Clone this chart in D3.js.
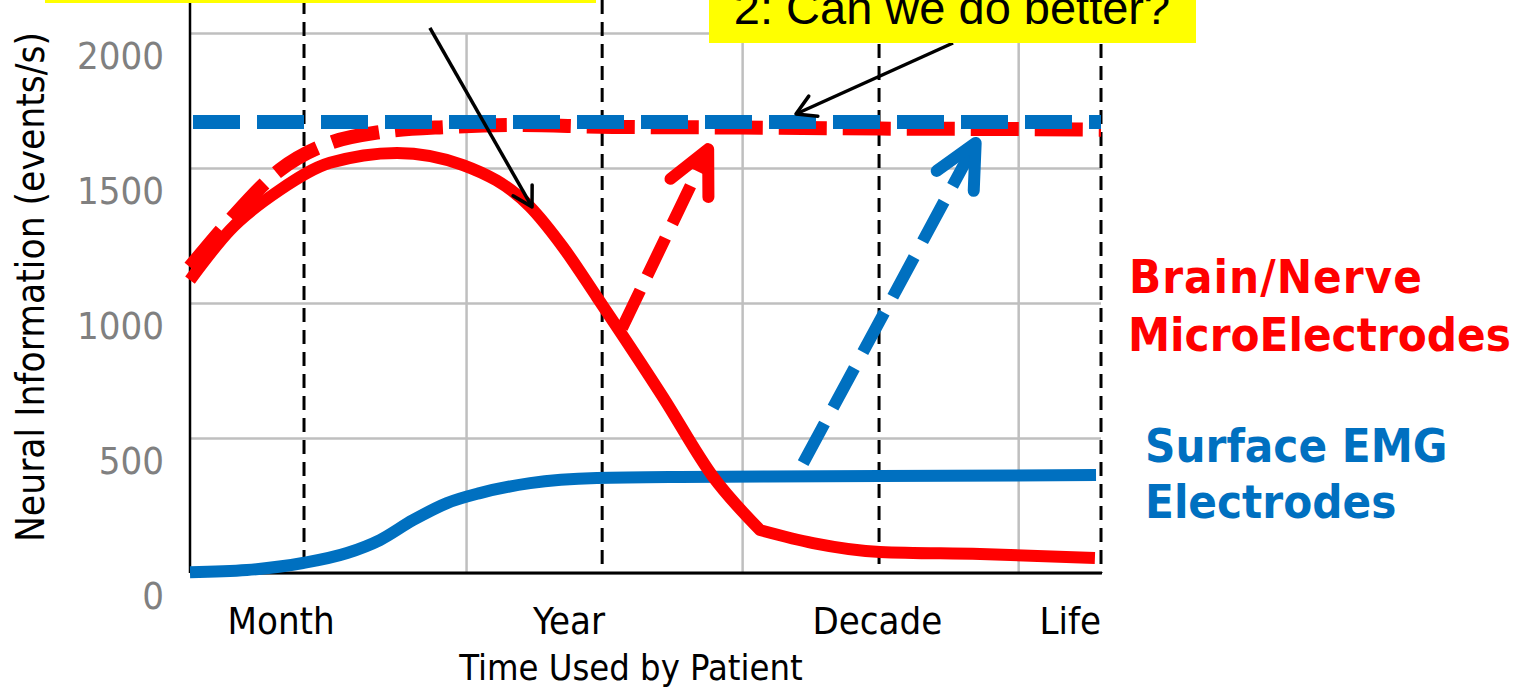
<!DOCTYPE html>
<html>
<head>
<meta charset="utf-8">
<script src="https://cdn.jsdelivr.net/npm/d3@7"></script>
<style>
  body { margin: 0; background: #fff; overflow: hidden; }
  svg { display: block; }
</style>
</head>
<body>
<svg id="chart" width="1515" height="688"></svg>
<script>
// x runs in grid columns (0 .. 3.3), y in events/s
const gridCols = [1, 2, 3];
const yTicks = [0, 500, 1000, 1500, 2000];
const periodLines = [0.413, 1.493, 2.496, 3.3];
const periodNames = ["Month", "Year", "Decade", "Life"];
const periodNameX = [0.33, 1.373, 2.49, 3.3];

// Brain/Nerve microelectrodes, today (solid red) - falls off to a corner, then a slow tail
const brainT = [0, 0.145, 0.326, 0.507, 0.75, 0.989, 1.232, 1.351, 1.474, 1.713, 1.895, 2.065];
const brainV = [1085, 1270, 1419, 1519, 1556, 1511, 1356, 1207, 1022, 652, 356, 159];
const brainTailT = [2.065, 2.257, 2.5, 2.862, 3.278];
const brainTailV = [159, 111, 78, 70, 56];

// Brain/Nerve, what could be (dashed red)
const brainGoalT = [0, 0.145, 0.326, 0.507, 0.688, 0.931, 1.17, 1.532, 1.992, 2.5, 3.0, 3.3];
const brainGoalV = [1133, 1307, 1493, 1593, 1633, 1652, 1659, 1652, 1650, 1646, 1644, 1642];

// Surface EMG, today (solid blue)
const emgT = [0, 0.206, 0.409, 0.569, 0.688, 0.808, 0.931, 1.05, 1.232, 1.474, 1.775, 2.5, 3.282];
const emgV = [3, 11, 37, 74, 122, 196, 259, 296, 333, 352, 356, 359, 363];

// Surface EMG, what could be (dashed blue)
const emgGoalT = [0, 3.3];
const emgGoalV = [1670, 1670];

// "can we do better" jumps: [t0, v0, t1, v1]
const brainJump = [1.565, 907, 1.877, 1570];
const emgJump = [2.221, 407, 2.846, 1593];

// callout pointers: [t0, v0, t1, v1]
const pointer1 = [0.869, 2019, 1.239, 1356];
const pointer2 = [2.764, 1963, 2.195, 1700];

const RED = "#FF0000";
const BLUE = "#0070C0";
const COND = "'DejaVu Sans Condensed', 'DejaVu Sans', sans-serif";

const margin = { top: 33, left: 190 };
const width = 911, height = 540;

const svg = d3.select("#chart");

const x = d3.scaleLinear().domain([0, 3.3]).range([0, width]);
const y = d3.scaleLinear().domain([0, 2000]).range([height, 0]);

const g = svg.append("g").attr("transform", `translate(${margin.left},${margin.top})`);

function condText(sel, size) {
    return sel.style("font-family", COND)
        .style("font-stretch", "condensed")
        .style("font-size", size + "px");
}

// horizontal grid + y tick labels (labels sit a bit below their lines, as in the slide)
const yAxis = g.append("g")
    .call(d3.axisLeft(y).tickValues(yTicks).tickFormat(d3.format("d")).tickSize(-width).tickPadding(26));
yAxis.select(".domain").remove();
yAxis.selectAll(".tick line").attr("stroke", "#BFBFBF").attr("stroke-width", 2.5);
condText(yAxis.selectAll(".tick text")
    .attr("dy", 35)
    .attr("fill", "#808080"), 38);

// vertical grid
const xGrid = g.append("g")
    .attr("transform", `translate(0,${height})`)
    .call(d3.axisBottom(x).tickValues(gridCols).tickSize(-height).tickFormat(""));
xGrid.select(".domain").remove();
xGrid.selectAll(".tick line").attr("stroke", "#BFBFBF").attr("stroke-width", 2.5);

// period markers
g.selectAll(".period")
    .data(periodLines)
    .enter()
    .append("line")
    .attr("class", "period")
    .attr("x1", d => x(d)).attr("x2", d => x(d))
    .attr("y1", -margin.top).attr("y2", height)
    .attr("stroke", "#000")
    .attr("stroke-width", 3)
    .attr("stroke-dasharray", "14,8");

// axis lines
g.append("line")
    .attr("x1", 0).attr("x2", 0).attr("y1", -margin.top).attr("y2", height)
    .attr("stroke", "#000").attr("stroke-width", 2.5);
g.append("line")
    .attr("x1", 0).attr("x2", x(3.3) + 1).attr("y1", height).attr("y2", height)
    .attr("stroke", "#000").attr("stroke-width", 3);

// period labels
condText(g.selectAll(".plabel")
    .data(periodNames)
    .enter()
    .append("text")
    .attr("class", "plabel")
    .attr("x", (d, i) => x(periodNameX[i]))
    .attr("y", 634 - margin.top)
    .attr("text-anchor", (d, i) => i === periodNames.length - 1 ? "end" : "middle"), 38)
    .text(d => d);

condText(svg.append("text")
    .attr("x", 631).attr("y", 680)
    .attr("text-anchor", "middle"), 36)
    .text("Time Used by Patient");

condText(svg.append("text")
    .attr("transform", "translate(44,287) rotate(-90)")
    .attr("text-anchor", "middle"), 38.5)
    .text("Neural Information (events/s)");

// series
const zip = (ts, vs) => ts.map((t, i) => ({ t: t, v: vs[i] }));
const line = d3.line().x(d => x(d.t)).y(d => y(d.v)).curve(d3.curveMonotoneX);

g.append("path")
    .datum(zip(emgT, emgV))
    .attr("d", line)
    .attr("fill", "none")
    .attr("stroke", BLUE)
    .attr("stroke-width", 12);

// red curve: two smooth pieces joined at a corner
const brainPath = line(zip(brainT, brainV)) + line(zip(brainTailT, brainTailV)).replace(/^M/, "L");
g.append("path")
    .attr("d", brainPath)
    .attr("fill", "none")
    .attr("stroke", RED)
    .attr("stroke-width", 12)
    .attr("stroke-linejoin", "round");

g.append("path")
    .datum(zip(brainGoalT, brainGoalV))
    .attr("d", line)
    .attr("fill", "none")
    .attr("stroke", RED)
    .attr("stroke-width", 14)
    .attr("stroke-dasharray", "48,16");

g.append("path")
    .datum(zip(emgGoalT, emgGoalV))
    .attr("d", line)
    .attr("fill", "none")
    .attr("stroke", BLUE)
    .attr("stroke-width", 14)
    .attr("stroke-dasharray", "47,17")
    .attr("stroke-dashoffset", 61);

// arrows
function arrow(p, color, w, dash, headLen, headAng) {
    const x0 = x(p[0]), y0 = y(p[1]), x1 = x(p[2]), y1 = y(p[3]);
    g.append("line")
        .attr("x1", x0).attr("y1", y0).attr("x2", x1).attr("y2", y1)
        .attr("stroke", color)
        .attr("stroke-width", w)
        .attr("stroke-dasharray", dash || null);
    const back = Math.atan2(y0 - y1, x0 - x1);
    const a = headAng * Math.PI / 180;
    const pts = [
        [x1 + headLen * Math.cos(back + a), y1 + headLen * Math.sin(back + a)],
        [x1, y1],
        [x1 + headLen * Math.cos(back - a), y1 + headLen * Math.sin(back - a)]
    ];
    g.append("path")
        .attr("d", d3.line()(pts))
        .attr("fill", "none")
        .attr("stroke", color)
        .attr("stroke-width", w)
        .attr("stroke-linecap", "round")
        .attr("stroke-linejoin", "round");
}

arrow(brainJump, RED, 12, "42,16", 48, 26);
arrow(emgJump, BLUE, 12, "45,18", 48, 26);
arrow(pointer1, "#000", 3.5, null, 22, 30);
arrow(pointer2, "#000", 3.5, null, 22, 30);

// legend labels
const legend = [
    { text: "Brain/Nerve", x: 1129, y: 293, c: RED, ls: 1 },
    { text: "MicroElectrodes", x: 1128, y: 351, c: RED, ls: 0 },
    { text: "Surface EMG", x: 1145, y: 462, c: BLUE, ls: 0 },
    { text: "Electrodes", x: 1145, y: 518, c: BLUE, ls: 0 }
];
condText(svg.selectAll(".legend")
    .data(legend)
    .enter()
    .append("text")
    .attr("class", "legend")
    .attr("x", d => d.x).attr("y", d => d.y)
    .attr("fill", d => d.c)
    .style("letter-spacing", d => d.ls + "px")
    .style("font-weight", "bold"), 47)
    .text(d => d.text);

// callout boxes (the first one is pushed off the top edge)
svg.append("rect")
    .attr("x", 45).attr("y", -40).attr("width", 551).attr("height", 43)
    .attr("fill", "#FFFF00");

svg.append("rect")
    .attr("x", 709).attr("y", -20).attr("width", 487).attr("height", 63)
    .attr("fill", "#FFFF00");
svg.append("text")
    .attr("x", 952).attr("y", 24)
    .attr("text-anchor", "middle")
    .style("font-family", "'Liberation Sans', Arial, sans-serif")
    .style("font-size", "47px")
    .text("2: Can we do better?");
</script>
</body>
</html>
